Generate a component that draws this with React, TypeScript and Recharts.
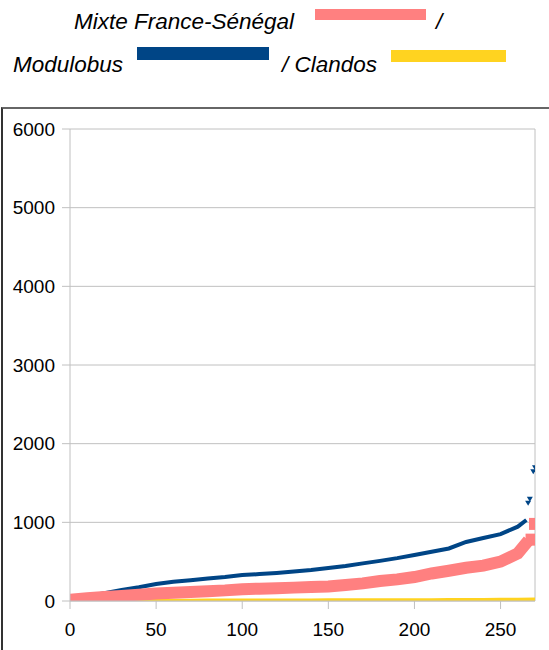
import {
  CartesianGrid,
  ComposedChart,
  Line,
  ReferenceLine,
  Scatter,
  XAxis,
  YAxis,
} from 'recharts';

// sample positions along the sorted index axis
const sampleX = [0, 10, 20, 30, 40, 50, 60, 70, 80, 90, 100, 110, 120, 130, 140, 150, 160, 170, 180, 190, 200, 210, 220, 230, 240, 250, 260];

const mixteValues = [15, 35, 50, 65, 80, 95, 105, 115, 125, 135, 150, 157, 163, 170, 177, 185, 203, 224, 254, 275, 305, 350, 385, 423, 450, 500, 606];
const mixteTailX = [264];
const mixteTailValues = [711];
const mixteEndX = [268, 270];
const mixteEndValues = [780, 980];

const modulobusValues = [15, 60, 100, 140, 175, 215, 245, 265, 285, 305, 330, 342, 357, 375, 395, 420, 445, 478, 510, 545, 585, 627, 668, 750, 800, 850, 945];
const modulobusTailX = [265];
const modulobusTailValues = [1030];
const modulobusEndX = [266, 267, 269, 270];
const modulobusEndValues = [1250, 1300, 1650, 1700];

const clandosValues = [0, 1, 2, 2, 3, 3, 4, 4, 5, 5, 5, 6, 6, 7, 7, 8, 8, 9, 9, 10, 10, 11, 12, 13, 14, 15, 17];
const clandosTailX = [270];
const clandosTailValues = [20];

const xTicks = [0, 50, 100, 150, 200, 250];
const yTicks = [0, 1000, 2000, 3000, 4000, 5000, 6000];

const toPoints = (xs: number[], ys: number[]) => xs.map((x, i) => ({ x, y: ys[i] }));

const mixteLine = toPoints([...sampleX, ...mixteTailX], [...mixteValues, ...mixteTailValues]);
const mixteEnd = toPoints(mixteEndX, mixteEndValues);
const modulobusLine = toPoints([...sampleX, ...modulobusTailX], [...modulobusValues, ...modulobusTailValues]);
const modulobusEnd = toPoints(modulobusEndX, modulobusEndValues);
const clandosLine = toPoints([...sampleX, ...clandosTailX], [...clandosValues, ...clandosTailValues]);

const PINK = '#ff8080';
const BLUE = '#004586';
const YELLOW = '#ffd320';
const GRID = '#c0c0c0';

const SquareDot = (props: any) => (
  <rect x={props.cx - 6} y={props.cy - 6} width={12} height={12} fill={PINK} />
);

const TriangleDot = (props: any) => (
  <path
    d={`M${props.cx - 3},${props.cy - 2} L${props.cx + 3},${props.cy - 2} L${props.cx},${props.cy + 3} Z`}
    fill={BLUE}
  />
);

const tickStyle = { fill: '#000', fontSize: 19, fontFamily: '"Liberation Sans", Arial, sans-serif' };

export default function App() {
  return (
    <div style={{ position: 'absolute', left: 0, top: 0, width: 549, height: 650, overflow: 'hidden', background: '#fff' }}>
      {/* header legend */}
      <svg width={549} height={100} style={{ position: 'absolute', left: 0, top: 0 }}>
        <g fontFamily='"Liberation Sans", Arial, sans-serif' fontStyle="italic" fontSize={22.5} fill="#000">
          <text x={74} y={29}>Mixte France-Sénégal</text>
          <rect x={315} y={9} width={111} height={11} fill={PINK} />
          <text x={436} y={29}>/</text>
          <text x={13} y={72}>Modulobus</text>
          <rect x={137} y={47} width={132} height={13} fill={BLUE} />
          <text x={282} y={72}>/ Clandos</text>
          <rect x={391} y={50} width={115} height={12} fill={YELLOW} />
        </g>
      </svg>

      <div style={{ position: 'absolute', left: 0, top: 0 }}>
        <ComposedChart width={549} height={650} margin={{ top: 129, right: 14, bottom: 0, left: 0 }}>
          <CartesianGrid vertical={false} stroke={GRID} />
          <XAxis
            type="number"
            dataKey="x"
            domain={[0, 270]}
            ticks={xTicks}
            height={49}
            tickSize={8}
            tickMargin={14}
            stroke={GRID}
            tick={tickStyle}
            allowDataOverflow
          />
          <YAxis
            type="number"
            dataKey="y"
            domain={[0, 6000]}
            ticks={yTicks}
            width={70}
            tickSize={8}
            tickMargin={7}
            stroke={GRID}
            tick={tickStyle}
            allowDataOverflow
          />
          <ReferenceLine x={270} stroke={GRID} />

          <Line data={clandosLine} dataKey="y" stroke={YELLOW} strokeWidth={4} dot={false} isAnimationActive={false} />
          <Line data={modulobusLine} dataKey="y" stroke={BLUE} strokeWidth={4} dot={false} isAnimationActive={false} />
          <Scatter data={modulobusEnd} dataKey="y" shape={TriangleDot} isAnimationActive={false} />
          <Line
            data={mixteLine}
            dataKey="y"
            stroke={PINK}
            strokeWidth={12}
            strokeLinecap="square"
            dot={false}
            isAnimationActive={false}
          />
          <Scatter data={mixteEnd} dataKey="y" shape={SquareDot} isAnimationActive={false} />
        </ComposedChart>
      </div>

      {/* outer frame */}
      <div
        style={{
          position: 'absolute',
          left: 1,
          top: 107,
          width: 600,
          height: 600,
          borderTop: '2px solid #666',
          borderLeft: '2px solid #333',
          pointerEvents: 'none',
        }}
      />
    </div>
  );
}
